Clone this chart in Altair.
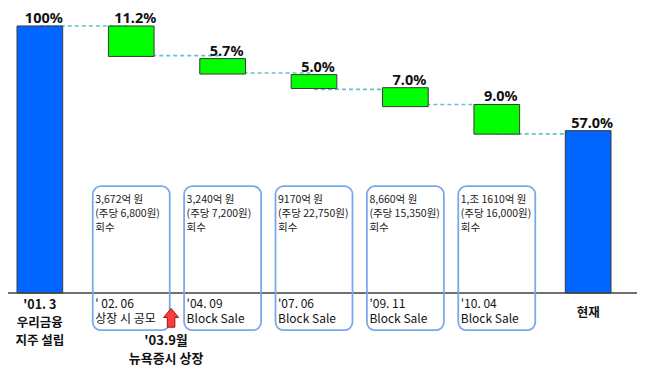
import altair as alt
import pandas as pd

# ---- data ----
categories = ["'01. 3", "'02. 06", "'04. 09", "'07. 06", "'09. 11", "'10. 04", "현재"]
bar_top = [100.0, 100.0, 87.8, 81.8, 76.9, 70.6, 60.8]
bar_bottom = [0.0, 88.6, 82.0, 76.6, 69.8, 59.5, 0.0]
bar_kind = ["total", "step", "step", "step", "step", "step", "total"]
value_labels = ["100%", "11.2%", "5.7%", "5.0%", "7.0%", "9.0%", "57.0%"]

link_from = categories[:-1]
link_to = categories[1:]
link_level = [100.0, 88.9, 82.4, 76.3, 70.6, 59.6]

box_cats = categories[1:6]
box_amounts = [
    "3,672억 원\n(주당 6,800원)\n회수",
    "3,240억 원\n(주당 7,200원)\n회수",
    "9170억 원\n(주당 22,750원)\n회수",
    "8,660억 원\n(주당 15,350원)\n회수",
    "1,조 1610억 원\n(주당 16,000원)\n회수",
]
box_events = [
    "' 02. 06\n상장 시 공모",
    "'04. 09\nBlock Sale",
    "'07. 06\nBlock Sale",
    "'09. 11\nBlock Sale",
    "'10. 04\nBlock Sale",
]
first_label = "'01. 3\n우리금융\n지주 설립"
last_label = "현재"
ny_label = "'03.9월\n뉴욕증시 상장"

FONT = "Noto Sans CJK KR"
W, H = 629, 362

# layout levels (in the y scale's units) for the annotation layers
BOX_TOP, BOX_BOTTOM = 40.0, -13.9
AMOUNT_Y, EVENT_Y = 36.8, -2.2
FIRST_Y, LAST_Y, NY_Y, ARROW_Y = -2.4, -5.2, -15.6, -9.3

bars = pd.DataFrame({"cat": categories, "top": bar_top, "bottom": bar_bottom,
                     "kind": bar_kind, "label": value_labels})
seg_rows = []
for i, (a, b, lv) in enumerate(zip(link_from, link_to, link_level)):
    seg_rows.append({"cat": a, "lv": lv, "seg": i})
    seg_rows.append({"cat": b, "lv": lv, "seg": i})
links = pd.DataFrame(seg_rows)
boxes = pd.DataFrame({"cat": box_cats, "amount": box_amounts, "event": box_events})
boxes["y0"] = BOX_TOP
boxes["y1"] = BOX_BOTTOM
boxes["ya"] = AMOUNT_Y
boxes["ye"] = EVENT_Y
ends = pd.DataFrame({"cat": [categories[0], categories[-1]],
                     "txt": [first_label, last_label], "y": [FIRST_Y, LAST_Y]})
ny = pd.DataFrame({"cat": [categories[1]], "txt": [ny_label], "y": [NY_Y], "ya": [ARROW_Y]})
base_df = pd.DataFrame({"y": [0.0]})

xs = alt.Scale(domain=categories, range=[9, 603], paddingInner=0.5, paddingOuter=0)
ys = alt.Scale(domain=[-28.84, 106.74], nice=False, zero=False)


def X(**kw):
    return alt.X("cat:N", scale=xs, axis=None, **kw)


def Y(f):
    return alt.Y(f, scale=ys, axis=None)


connectors = alt.Chart(links).mark_line(
    color="#62c4c8", strokeWidth=1.7, strokeDash=[4, 3]
).encode(x=X(), y=Y("lv:Q"), detail="seg:N")

bar_layer = alt.Chart(bars).mark_bar(stroke="#3a3a3a", strokeWidth=1).encode(
    x=X(),
    y=Y("top:Q"),
    y2="bottom:Q",
    color=alt.Color("kind:N", scale=alt.Scale(domain=["total", "step"],
                                              range=["#0066ff", "#00ff00"]), legend=None),
)

val_text = alt.Chart(bars).mark_text(
    font="Noto Sans", fontWeight="bold", fontSize=14.5, baseline="alphabetic",
    dx=4, dy=-3, color="#111111"
).encode(x=X(), y=Y("top:Q"), text="label:N")

axis_line = alt.Chart(base_df).mark_rule(color="#404040", strokeWidth=1.5).encode(
    y=Y("y:Q")
)

box_layer = alt.Chart(boxes).mark_bar(
    width=77, cornerRadius=8, fillOpacity=0, stroke="#7aa8ec", strokeWidth=1.8
).encode(x=X(), y=Y("y0:Q"), y2="y1:Q")

amount_text = alt.Chart(boxes).mark_text(
    font=FONT, fontSize=10.5, align="left", baseline="top", lineBreak="\n",
    lineHeight=14, dx=-36, color="#222222"
).encode(x=X(), y=Y("ya:Q"), text="amount:N")

event_text = alt.Chart(boxes).mark_text(
    font=FONT, fontSize=12, align="left", baseline="top", lineBreak="\n",
    lineHeight=15.5, dx=-36, color="#111111"
).encode(x=X(), y=Y("ye:Q"), text="event:N")

end_text = alt.Chart(ends).mark_text(
    font=FONT, fontSize=12.5, fontWeight="bold", align="center", baseline="top",
    lineBreak="\n", lineHeight=18, color="#111111"
).encode(x=X(), y=Y("y:Q"), text="txt:N")

ny_text = alt.Chart(ny).mark_text(
    font=FONT, fontSize=13, fontWeight="bold", align="center", baseline="top",
    lineBreak="\n", lineHeight=18, color="#111111", dx=12
).encode(x=X(bandPosition=1), y=Y("y:Q"), text="txt:N")

# block arrow drawn as a custom symbol, shifted to sit between the first two boxes
arrow = alt.Chart(ny).mark_point(
    shape="M2.27,-1.25L3.27,-0.05L2.77,-0.05L2.77,1.25L1.77,1.25L1.77,-0.05L1.27,-0.05Z",
    size=225, filled=True, fill="#ff3b3b", stroke="#8a1a1a", strokeWidth=1, opacity=1
).encode(x=X(bandPosition=1), y=Y("ya:Q"))

chart = alt.layer(
    connectors, bar_layer, axis_line, box_layer, amount_text,
    event_text, val_text, end_text, ny_text, arrow
).properties(
    width=W, height=H, padding=0, autosize=alt.AutoSizeParams(type="none"),
    background="white"
).configure_view(stroke=None)

chart.save("out.html", embed_options={"renderer": "svg", "actions": False})
